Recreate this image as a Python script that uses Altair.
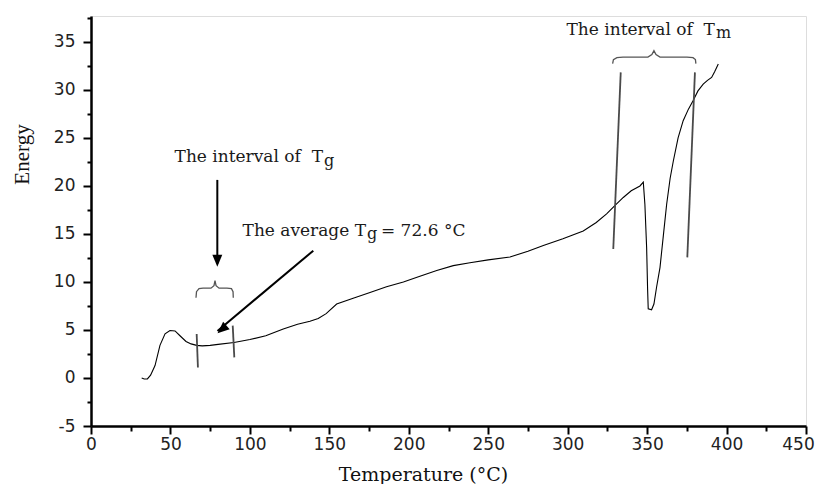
import altair as alt
import pandas as pd

# ---- curve data (Temperature °C, Energy) ----
temps = [31.9, 33.5, 35.5, 37.5, 40.3, 43.4, 46.6, 49.7, 52.9, 56.0, 59.8, 63.0, 66.5, 70.0,
         75.0, 80.0, 90.0, 100.0, 110.0, 121.0, 130.0, 137.8, 143.0, 148.0, 154.6, 165.0,
         175.6, 186.0, 196.6, 207.0, 217.6, 228.0, 238.5, 250.0, 263.7, 275.0, 284.7, 297.0,
         309.8, 318.0, 324.5, 330.0, 335.0, 340.0, 345.5, 347.6, 348.6, 349.7, 350.3, 350.7,
         352.8, 354.3, 356.0, 358.1, 360.2, 362.3, 364.5, 366.5, 369.5, 372.7, 376.0, 379.0,
         382.0, 385.3, 388.0, 390.6, 392.5, 394.8]
energy = [0.0, -0.1, -0.1, 0.3, 1.3, 3.4, 4.6, 4.95, 4.9, 4.4, 3.8, 3.55, 3.4, 3.35,
          3.4, 3.5, 3.7, 4.0, 4.4, 5.1, 5.6, 5.9, 6.2, 6.7, 7.7, 8.3,
          8.9, 9.5, 10.0, 10.6, 11.2, 11.7, 12.0, 12.3, 12.6, 13.2, 13.8, 14.5,
          15.3, 16.2, 17.1, 18.0, 18.8, 19.5, 20.0, 20.4, 18.1, 13.6, 9.3, 7.2,
          7.1, 7.7, 9.5, 11.5, 14.8, 18.1, 20.8, 22.6, 25.0, 26.8, 28.0, 28.9,
          29.9, 30.6, 31.0, 31.3, 31.9, 32.7]

# ---- interval marker lines (id, T, E) ----
seg_id = ["g1", "g1", "g2", "g2", "m1", "m1", "m2", "m2"]
seg_T = [66.5, 67.3, 89.2, 90.2, 333.4, 328.7, 380.1, 375.3]
seg_E = [4.58, 1.10, 5.45, 2.15, 31.83, 13.44, 31.83, 12.56]

# ---- braces ----
brace_g_T = [66.08, 66.4, 67.97, 70.5, 75.5, 77.4, 78.04, 78.7, 80.6, 85.6, 88.4, 89.4, 89.55]
brace_g_E = [8.36, 8.99, 9.30, 9.35, 9.35, 9.61, 10.14, 9.61, 9.35, 9.35, 9.30, 8.99, 8.36]
brace_m_T = [328.3, 328.8, 331.0, 334.8, 350.5, 353.0, 354.3, 355.6, 358.1, 375.1, 378.9, 380.4, 380.7]
brace_m_E = [32.74, 33.16, 33.36, 33.42, 33.42, 33.68, 34.09, 33.68, 33.42, 33.42, 33.36, 33.16, 32.74]

# ---- arrows (start -> tip) ----
arrow_id = ["a1", "a1", "a2", "a2"]
arrow_T = [79.5, 79.5, 139.9, 79.6]
arrow_E = [20.63, 11.9, 13.26, 4.9]
head_T = [79.5, 79.6]
head_E = [11.59, 4.65]
head_angle = [0, 49]

# ---- texts ----
NB = "\u00a0"
main_txt = ["The interval of" + NB + NB + "T", "The average T", "The interval of" + NB + NB + "T"]
main_T = [146.0, 173.1, 392.7]
main_E = [22.46, 14.82, 35.76]
sub_txt = ["g", "g", "m"]
sub_T = [146.0, 173.1, 392.7]
sub_E = [22.12, 14.47, 35.45]
tail_txt = ["=" + NB + "72.6 °C"]
tail_T = [182.5]
tail_E = [14.82]

x_ticks = list(range(0, 451, 25))
y_ticks = [v / 2 for v in range(-10, 76, 5)]

curve_df = pd.DataFrame({"T": temps, "E": energy, "i": range(len(temps))})
seg_df = pd.DataFrame({"T": seg_T, "E": seg_E, "id": seg_id, "i": range(len(seg_T))})
brace_df = pd.DataFrame({
    "T": brace_g_T + brace_m_T,
    "E": brace_g_E + brace_m_E,
    "id": ["g"] * len(brace_g_T) + ["m"] * len(brace_m_T),
    "i": list(range(len(brace_g_T))) + list(range(len(brace_m_T))),
})
arrow_df = pd.DataFrame({"T": arrow_T, "E": arrow_E, "id": arrow_id, "i": range(4)})
head_df = pd.DataFrame({"T": head_T, "E": head_E, "ang": head_angle})
main_text_df = pd.DataFrame({"T": main_T, "E": main_E, "txt": main_txt})
sub_text_df = pd.DataFrame({"T": sub_T, "E": sub_E, "txt": sub_txt})
tail_text_df = pd.DataFrame({"T": tail_T, "E": tail_E, "txt": tail_txt})

xscale = alt.Scale(domain=[0, 450], nice=False, zero=False)
yscale = alt.Scale(domain=[-5, 37.7], nice=False, zero=False)

axis_x = alt.Axis(
    values=x_ticks,
    labelExpr="datum.value % 50 == 0 ? datum.label : ''",
    tickSize={"condition": {"test": "datum.value % 50 == 0", "value": 8}, "value": 5},
    labelOffset={"condition": {"test": "datum.value == 450", "value": -8}, "value": 0},
    grid=False, labelFont="DejaVu Sans", labelFontSize=17, labelColor="#222",
    labelPadding=2, domainColor="black", domainWidth=2.5, tickColor="black", tickWidth=2,
    titleFont="DejaVu Serif", titleFontSize=19, titleFontWeight="normal", titleColor="#111",
    titleX=332, titleY=54, titleAlign="center", titleBaseline="alphabetic", labelFlush=False,
)
axis_y = alt.Axis(
    values=y_ticks,
    labelExpr="datum.value % 5 == 0 ? (datum.value < 0 ? '-' + abs(datum.value) : '' + datum.value) : ''",
    tickSize={"condition": {"test": "datum.value % 5 == 0", "value": 8}, "value": 4},
    grid=False, labelFont="DejaVu Sans", labelFontSize=17, labelColor="#222",
    labelPadding=8, domainColor="black", domainWidth=2.5, tickColor="black", tickWidth=2,
    titleFont="Liberation Serif", titleFontSize=21, titleFontWeight="normal", titleColor="#111",
    titleAngle=270, titleX=-63, titleY=138, titleAlign="center", titleBaseline="alphabetic",
    labelFlush=False,
)


def X():
    return alt.X("T:Q", scale=xscale, axis=axis_x, title="Temperature (°C)")


def Y():
    return alt.Y("E:Q", scale=yscale, axis=axis_y, title="Energy")


curve = alt.Chart(curve_df).mark_line(color="black", strokeWidth=1.1).encode(
    x=X(), y=Y(), order="i:Q")
segs = alt.Chart(seg_df).mark_line(color="#4a4a4a", strokeWidth=1.8).encode(
    x=X(), y=Y(), detail="id:N", order="i:Q")
braces = alt.Chart(brace_df).mark_line(color="#555", strokeWidth=1.3).encode(
    x=X(), y=Y(), detail="id:N", order="i:Q")
arrows = alt.Chart(arrow_df).mark_line(color="black", strokeWidth=2).encode(
    x=X(), y=Y(), detail="id:N", order="i:Q")
heads = alt.Chart(head_df).mark_point(
    shape="M0,0L-0.42,-1L0.42,-1Z", filled=True, color="black", opacity=1, size=560, strokeWidth=0
).encode(x=X(), y=Y(), angle=alt.Angle("ang:Q", scale=None))

txt_main = alt.Chart(main_text_df).mark_text(
    align="right", baseline="alphabetic", font="DejaVu Serif", fontSize=17, color="#1a1a1a"
).encode(x=X(), y=Y(), text="txt:N")
txt_sub = alt.Chart(sub_text_df).mark_text(
    align="left", baseline="alphabetic", font="DejaVu Serif", fontSize=16, color="#1a1a1a", dx=1
).encode(x=X(), y=Y(), text="txt:N")
txt_tail = alt.Chart(tail_text_df).mark_text(
    align="left", baseline="alphabetic", font="DejaVu Serif", fontSize=17, color="#1a1a1a"
).encode(x=X(), y=Y(), text="txt:N")

chart = alt.layer(curve, segs, braces, arrows, heads, txt_main, txt_sub, txt_tail).properties(
    width=715, height=410,
    autosize=alt.AutoSizeParams(type="none"),
    padding={"left": 83, "top": 8, "right": 11, "bottom": 58},
).configure_view(stroke=None).configure(background="white")

chart.save("out.html", embed_options={"renderer": "svg", "actions": False})
